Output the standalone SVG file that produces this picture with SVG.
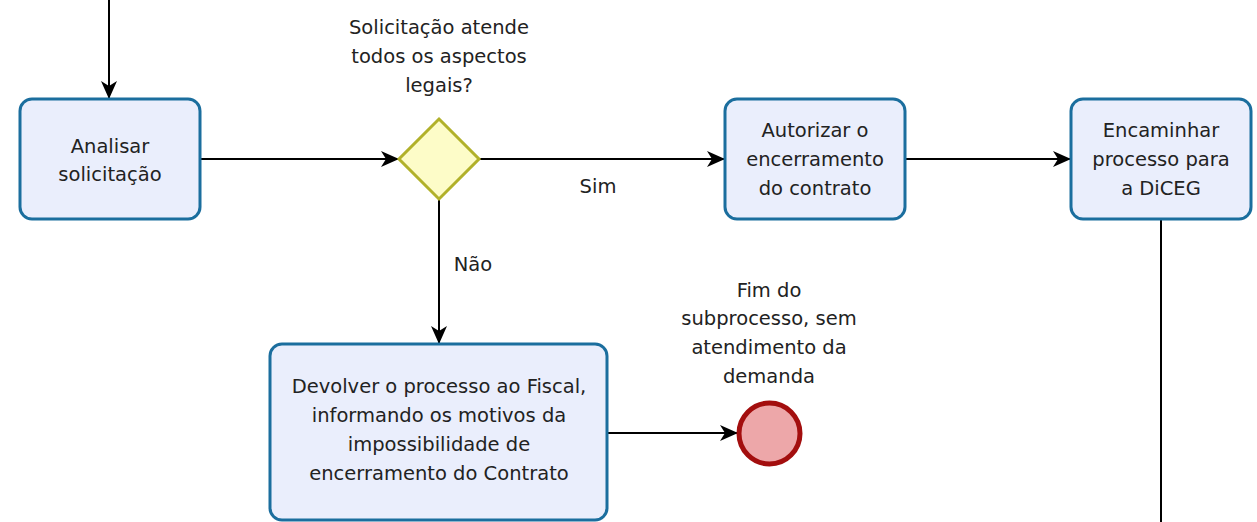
<svg xmlns="http://www.w3.org/2000/svg" width="1257" height="522" viewBox="0 0 1257 522">
<defs>
<marker id="arr" viewBox="0 0 18 18" refX="17" refY="9" markerWidth="18" markerHeight="18" markerUnits="userSpaceOnUse" orient="auto">
<path d="M0,1 L18,9 L0,17 L5,9 Z" fill="#000"/>
</marker>
</defs>
<style>
.task{fill:#eaeefc;stroke:#1b6e9e;stroke-width:3}
.gw{fill:#fdfcc8;stroke:#b1b12a;stroke-width:3}
.end{fill:#eda7a9;stroke:#a30e0e;stroke-width:5}
.t{font-family:"DejaVu Sans",sans-serif;font-size:19.5px;fill:#222;text-anchor:middle}
.c{fill:none;stroke:#000;stroke-width:2;marker-end:url(#arr)}
</style>
<rect width="1257" height="522" fill="#fff"/>
<g id="connectors">
<path class="c" d="M109,0 L109,98"/>
<path class="c" d="M200,159 L398,159"/>
<path class="c" d="M479,159 L724,159"/>
<path class="c" d="M905,159 L1070,159"/>
<path class="c" d="M439,199 L439,343"/>
<path class="c" d="M607,433 L737,433"/>
<path fill="none" stroke="#000" stroke-width="2" d="M1161,219 L1161,522"/>
<text class="t" x="598" y="193">Sim</text>
<text class="t" x="473" y="271">Não</text>
</g>
<g id="analisar">
<rect class="task" x="20" y="99" width="180" height="120" rx="12"/>
<text class="t" x="110" y="153">Analisar</text>
<text class="t" x="110" y="181">solicitação</text>
</g>
<g id="gateway">
<path class="gw" d="M439,119 L479,159 L439,199 L399,159 Z"/>
<text class="t" x="439" y="34">Solicitação atende</text>
<text class="t" x="439" y="63">todos os aspectos</text>
<text class="t" x="439" y="92">legais?</text>
</g>
<g id="autorizar">
<rect class="task" x="725" y="99" width="180" height="120" rx="12"/>
<text class="t" x="815" y="137">Autorizar o</text>
<text class="t" x="815" y="166">encerramento</text>
<text class="t" x="815" y="195">do contrato</text>
</g>
<g id="encaminhar">
<rect class="task" x="1071" y="99" width="180" height="120" rx="12"/>
<text class="t" x="1161" y="137">Encaminhar</text>
<text class="t" x="1161" y="166">processo para</text>
<text class="t" x="1161" y="195">a DiCEG</text>
</g>
<g id="devolver">
<rect class="task" x="270" y="344" width="337" height="176" rx="12"/>
<text class="t" x="439" y="393">Devolver o processo ao Fiscal,</text>
<text class="t" x="439" y="422">informando os motivos da</text>
<text class="t" x="439" y="451">impossibilidade de</text>
<text class="t" x="439" y="480">encerramento do Contrato</text>
</g>
<g id="fim">
<circle class="end" cx="769.5" cy="433.5" r="30.5"/>
<text class="t" x="769" y="297">Fim do</text>
<text class="t" x="769" y="325">subprocesso, sem</text>
<text class="t" x="769" y="354">atendimento da</text>
<text class="t" x="769" y="383">demanda</text>
</g>
</svg>
